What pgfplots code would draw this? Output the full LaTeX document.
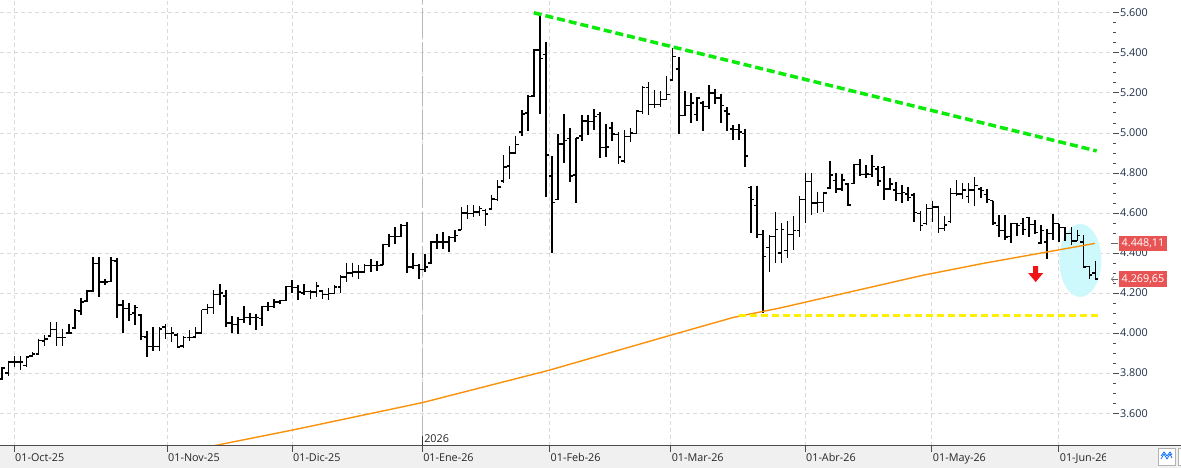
\documentclass[border=0pt]{standalone}
\usepackage{pgfplots}
\pgfplotsset{compat=1.18}
\usepackage{pgfplotstable}
\usepackage{fontspec}
\setmainfont{Open Sans}
\usetikzlibrary{arrows.meta,calc}
\definecolor{gridc}{RGB}{218,218,218}
\definecolor{bandc}{RGB}{240,240,240}
\definecolor{orangec}{RGB}{250,145,10}
\definecolor{greenc}{RGB}{10,235,10}
\definecolor{yellowc}{RGB}{255,240,0}
\definecolor{cyanc}{RGB}{205,248,252}
\definecolor{labred}{RGB}{232,84,84}
\definecolor{ylab}{RGB}{30,45,70}
\definecolor{arrred}{RGB}{240,20,20}

\pgfdeclareplotmark{openL}{\pgfpathmoveto{\pgfqpoint{-3pt}{0pt}}\pgfpathlineto{\pgfqpoint{0pt}{0pt}}\pgfusepathqstroke}
\pgfdeclareplotmark{closeR}{\pgfpathmoveto{\pgfqpoint{0pt}{0pt}}\pgfpathlineto{\pgfqpoint{3pt}{0pt}}\pgfusepathqstroke}

\pgfplotstableread{
k O H L C
1 3770 3830 3765 3825
2 3800 3863 3788 3855
3 3855 3888 3830 3855
4 3855 3888 3817 3855
5 3838 3885 3830 3880
6 3885 3905 3880 3895
7 3895 3972 3893 3963
8 3960 3988 3938 3970
9 3985 4055 3980 4017
10 4017 4055 3938 3977
11 3977 4022 3938 3977
12 4000 4043 3997 4000
13 4025 4122 4022 4113
14 4110 4177 4088 4155
15 4160 4217 4155 4210
16 4210 4380 4205 4347
17 4347 4380 4180 4255
18 4255 4272 4238 4255
19 4258 4380 4255 4363
20 4360 4377 4077 4140
21 4140 4163 4000 4122
22 4122 4150 4060 4093
23 4100 4138 4038 4127
24 4090 4097 3967 3983
25 3980 4010 3880 3933
26 3933 4030 3910 3933
27 3933 4030 3910 4020
28 4030 4043 3972 3997
29 3997 4030 3955 4000
30 3990 4000 3927 3930
31 3935 3983 3927 3977
32 3977 4017 3963 3977
33 3980 4030 3977 4000
34 4000 4117 3997 4117
35 4117 4147 4097 4127
36 4127 4213 4097 4193
37 4193 4243 4138 4200
38 4185 4213 4030 4050
39 4050 4083 4000 4043
40 4043 4080 3997 4067
41 4067 4133 4050 4077
42 4077 4100 4038 4077
43 4077 4097 4017 4077
44 4072 4133 4033 4133
45 4133 4155 4110 4133
46 4133 4170 4127 4155
47 4155 4167 4143 4163
48 4163 4233 4160 4233
49 4233 4263 4200 4227
50 4227 4238 4163 4205
51 4200 4243 4188 4208
52 4208 4217 4172 4205
53 4205 4255 4180 4235
54 4210 4217 4172 4193
55 4193 4225 4167 4197
56 4197 4238 4193 4230
57 4230 4288 4200 4280
58 4280 4352 4255 4300
59 4300 4352 4280 4305
60 4305 4338 4272 4305
61 4305 4347 4300 4338
62 4338 4372 4305 4338
63 4338 4358 4310 4338
64 4340 4447 4338 4442
65 4442 4497 4430 4483
66 4483 4530 4447 4483
67 4483 4543 4480 4538
68 4538 4555 4300 4330
69 4330 4400 4322 4338
70 4338 4347 4272 4317
71 4317 4397 4305 4330
72 4350 4460 4347 4455
73 4455 4497 4422 4455
74 4455 4505 4418 4455
75 4455 4483 4405 4477
76 4477 4517 4455 4488
77 4515 4630 4513 4600
78 4600 4638 4572 4597
79 4597 4638 4580 4605
80 4605 4633 4583 4622
81 4614 4620 4533 4595
82 4620 4690 4620 4670
83 4667 4765 4660 4730
84 4760 4889 4752 4830
85 4834 4937 4771 4900
86 4900 4987 4896 4942
87 5005 5113 4984 5095
88 5100 5191 5012 5182
89 5185 5419 5177 5414
90 5414 5597 5095 5373
91 5390 5453 4680 4889
92 4785 4884 4400 4652
93 4669 4995 4664 4945
94 4945 5095 4851 4962
95 4972 5025 4757 4785
96 4790 4975 4652 4975
97 4984 5088 4962 5060
98 5060 5088 4989 5058
99 5058 5119 5017 5083
100 5091 5103 4876 4926
101 4926 5047 4881 4930
102 5025 5055 4962 4995
103 4992 5003 4843 4879
104 4859 5013 4851 4983
105 4983 5025 4955 5000
106 4998 5116 4995 5110
107 5108 5235 5095 5227
108 5227 5252 5091 5141
109 5141 5216 5124 5141
110 5141 5207 5128 5166
111 5166 5282 5166 5191
112 5265 5423 5260 5381
113 5320 5381 4995 5086
114 5086 5207 5083 5138
115 5138 5199 5050 5149
116 5091 5177 5061 5174
117 5150 5161 5012 5133
118 5133 5237 5121 5200
119 5200 5221 5144 5174
120 5174 5194 5050 5138
121 5110 5128 5008 5095
122 5020 5038 4967 5017
123 5017 5045 4967 5005
124 4997 5020 4831 4884
125 4729 4737 4500 4666
126 4637 4737 4475 4491
127 4492 4513 4098 4383
128 4427 4488 4305 4483
129 4483 4604 4350 4516
130 4400 4549 4350 4516
131 4413 4559 4375 4491
132 4491 4583 4417 4513
133 4513 4687 4480 4666
134 4666 4798 4549 4758
135 4758 4800 4592 4650
136 4650 4707 4599 4651
137 4651 4707 4604 4700
138 4725 4861 4720 4790
139 4762 4800 4699 4720
140 4720 4795 4712 4765
141 4745 4749 4634 4640
142 4749 4845 4745 4842
143 4842 4870 4787 4792
144 4792 4841 4775 4795
145 4792 4891 4778 4832
146 4820 4833 4737 4760
147 4828 4837 4667 4720
148 4720 4775 4717 4745
149 4715 4754 4662 4699
150 4699 4742 4651 4704
151 4695 4729 4659 4679
152 4690 4700 4554 4604
153 4596 4612 4510 4538
154 4549 4646 4538 4621
155 4621 4662 4554 4630
156 4630 4637 4500 4521
157 4521 4583 4510 4540
158 4559 4725 4549 4699
159 4699 4767 4687 4695
160 4695 4750 4671 4715
161 4682 4749 4649 4715
162 4715 4778 4637 4737
163 4720 4729 4676 4712
164 4692 4720 4649 4666
165 4662 4662 4538 4550
166 4538 4588 4480 4513
167 4513 4592 4467 4480
168 4483 4549 4450 4546
169 4546 4549 4483 4538
170 4546 4575 4488 4516
171 4579 4582 4480 4542
172 4542 4565 4496 4504
173 4450 4542 4447 4513
174 4455 4521 4372 4496
175 4496 4595 4466 4546
176 4546 4546 4455 4529
177 4529 4529 4458 4496
178 4496 4529 4438 4460
179 4460 4516 4460 4488
180 4455 4488 4325 4330
181 4331 4334 4268 4290
182 4300 4361 4266 4269.65
}\ohlc

\begin{document}
\begin{tikzpicture}[font=\fontsize{10.8}{13}\selectfont]
\fill[white] (0,0) rectangle (1181pt,468pt);
\fill[bandc] (0,0) rectangle (1181pt,22pt);
\begin{axis}[
  at={(0pt,22pt)}, anchor=south west,
  scale only axis, width=1113pt, height=446pt,
  xmin=0.62, xmax=184.9, ymin=3436, ymax=5664,
  axis line style={draw=none},
  xtick={2.94,28.27,48.96,70.5,91.6,111.65,133.9,154.9,175.9},
  xticklabels={01-Oct-25,01-Nov-25,01-Dic-25,01-Ene-26,01-Feb-26,01-Mar-26,01-Abr-26,01-May-26,01-Jun-26},
  ytick={3600,3800,4000,4200,4400,4600,4800,5000,5200,5400,5600},
  yticklabels={3.600,3.800,4.000,4.200,4.400,4.600,4.800,5.000,5.200,5.400,5.600},
  minor y tick num=3,
  xtick pos=bottom, ytick pos=right, yticklabel pos=right,
  tick align=outside,
  major tick length=6pt, minor tick length=3pt,
  tick style={black!70, line width=0.8pt},
  xmajorgrids, ymajorgrids,
  major grid style={gridc, line width=0.8pt, dash pattern=on 4pt off 3pt},
  xticklabel style={anchor=north west, inner sep=0pt, xshift=1pt, yshift=-1.5pt, text=black!85},
  yticklabel style={anchor=west, inner sep=0pt, xshift=1pt, text=ylab},
]
% year separator
\draw[black!28, line width=1pt, dash pattern=on 30pt off 4pt] (axis cs:70.5,3436) -- (axis cs:70.5,5664);
% highlight ellipse
\fill[cyanc] (axis cs:179.5,4363) ellipse [x radius=21pt, y radius=36.5pt];
% OHLC bars: high-low range
\addplot[draw=none, no markers,
  error bars/.cd, y dir=minus, y explicit, error mark=none,
  error bar style={draw=black, line width=1.6pt}]
  table[x=k, y=H, y error minus expr=\thisrow{H}-\thisrow{L}] \ohlc;
% open and close ticks
\addplot[black, only marks, mark=openL, mark options={line width=1.3pt}] table[x=k, y=O] \ohlc;
\addplot[black, only marks, mark=closeR, mark options={line width=1.3pt}] table[x=k, y=C] \ohlc;
% moving average
\addplot[orangec, line width=1.4pt] coordinates {(35.5,3434) (49.1,3516) (70.6,3653) (91.6,3815) (111.5,3988) (122,4078) (129.7,4125) (153.3,4288) (163.2,4347) (181.9,4448)};
% trend lines
\addplot[greenc, line width=3.5pt, dash pattern=on 8pt off 4pt] coordinates {(89,5600) (182.2,4910)};
\addplot[yellowc, line width=3.5pt, dash pattern=on 7pt off 4pt] coordinates {(122.9,4088) (182.7,4088)};
% red arrow
\fill[arrred] (axis cs:172.1,4255) -- ++(-7.5pt,9pt) -- ++(5pt,0pt) -- ++(0pt,7pt) -- ++(5pt,0pt) -- ++(0pt,-7pt) -- ++(5pt,0pt) -- cycle;
% 2026 marker
\draw[black!80, line width=0.9pt] (axis cs:70.5,3436) -- ++(0pt,10pt);
\node[anchor=south west, inner sep=0pt, xshift=2pt, yshift=3pt, text=black!85] at (axis cs:70.5,3436) {2026};
\coordinate (l1) at (axis cs:182,4448.11);
\coordinate (l2) at (axis cs:182,4269.65);
\end{axis}
\draw[black!70, line width=1pt] (0,22pt) -- (1181pt,22pt);
% cover clipped last date label
\fill[bandc] (1106pt,0) rectangle (1181pt,21.5pt);
\draw[black!30, fill=white] (1158pt,2.5pt) rectangle (1175pt,19.5pt);
\draw[blue!60!cyan, line width=0.7pt] (1161pt,9pt) -- (1164pt,14pt) -- (1167pt,9pt) -- (1170pt,14pt) -- (1172pt,10pt);
\draw[blue!60!cyan, line width=0.7pt] (1161pt,12pt) -- (1164pt,16pt) -- (1167pt,12pt) -- (1170pt,16pt) -- (1172pt,13pt);
\draw[black!30, fill=white] (1178pt,2.5pt) rectangle (1185pt,19.5pt);
% price labels
\path let \p1=(l1), \p2=(l2) in
  node[fill=labred, text=white, anchor=west, inner xsep=2.5pt, minimum height=15.5pt, inner ysep=0pt] at (1119pt,\y1) {4.448,11}
  node[fill=labred, text=white, anchor=west, inner xsep=2.5pt, minimum height=15.5pt, inner ysep=0pt] at (1119pt,\y2) {4.269,65};
\path let \p1=(l1), \p2=(l2) in
  [draw=black!60, line width=0.6pt, -{Straight Barb[length=2.5pt,width=5pt]}] (1118pt,\y1) -- (1111pt,\y1)
  [draw=black!60, line width=0.6pt, -{Straight Barb[length=2.5pt,width=5pt]}] (1118pt,\y2) -- (1111pt,\y2);
\pgfresetboundingbox
\useasboundingbox (0,0) rectangle (1181pt,468pt);
\end{tikzpicture}
\end{document}
